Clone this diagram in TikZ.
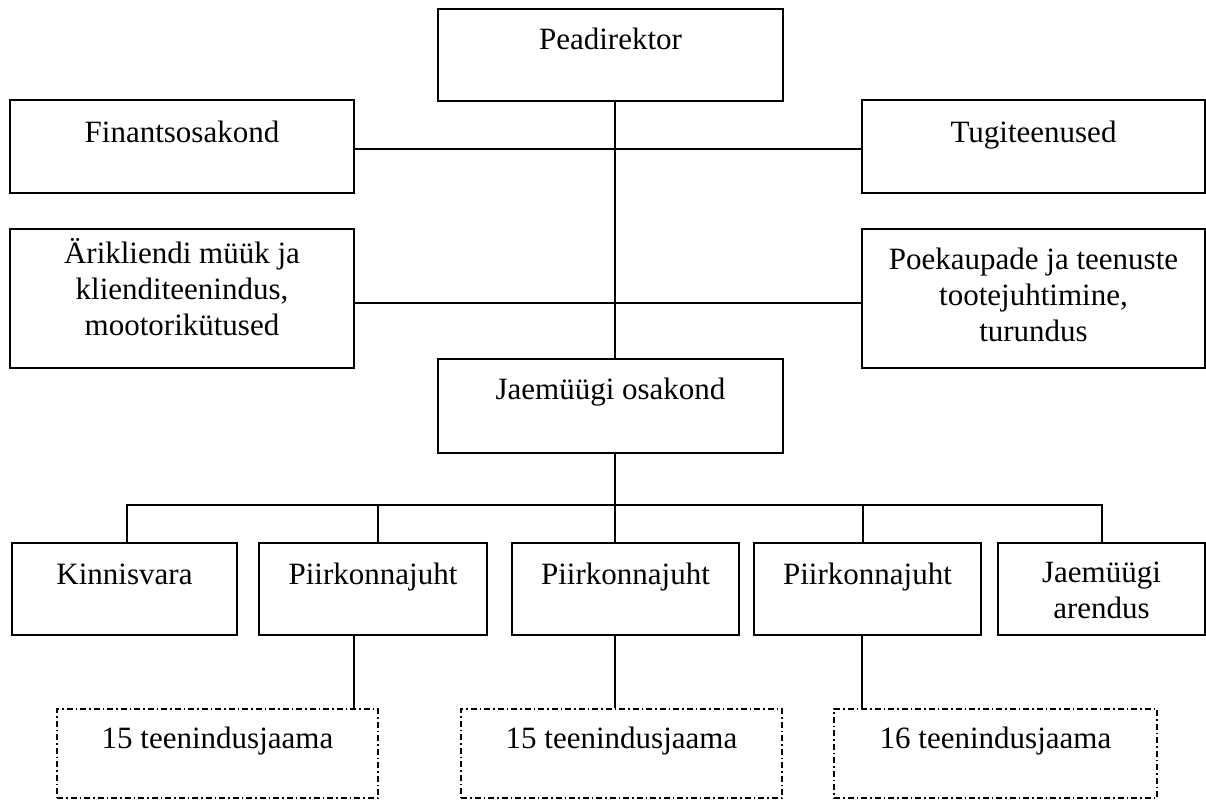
\documentclass[tikz,border=0pt]{standalone}
\usepackage{fontspec}
\setmainfont{Liberation Serif}
\begin{document}
\begin{tikzpicture}[x=1pt,y=-1pt,
  every node/.style={font=\fontsize{31}{36}\selectfont},
  box/.style={draw, line width=1.2pt, inner sep=0pt, rectangle},
  subbox/.style={draw, line width=1.2pt, inner sep=0pt, rectangle,
    dash pattern=on 6pt off 3pt on 1.5pt off 3pt},
  lbl/.style={inner sep=0pt, anchor=base, align=center},
  link/.style={line width=1.2pt}]
\useasboundingbox (0,0) rectangle (1206,800);

% top level
\node[box, minimum width=345pt, minimum height=92pt] (pd) at (610.5,55) {};
\node[lbl] (pd-t) at (610.5,50) {Peadirektor};

% staff units
\node[box, minimum width=344pt, minimum height=93pt] (fin) at (182,146.5) {};
\node[lbl] (fin-t) at (182,142) {Finantsosakond};
\node[box, minimum width=343pt, minimum height=93pt] (tug) at (1033.5,146.5) {};
\node[lbl] (tug-t) at (1033.5,142) {Tugiteenused};

% multi-line labels: the base anchor sits on the last line
\node[box, minimum width=344pt, minimum height=139pt] (ari) at (182,298.5) {};
\node[lbl] (ari-t) at (182,335) {Ärikliendi müük ja\\ klienditeenindus,\\ mootorikütused};
\node[box, minimum width=343pt, minimum height=139pt] (poe) at (1033.5,298.5) {};
\node[lbl] (poe-t) at (1033.5,341) {Poekaupade ja teenuste\\ tootejuhtimine,\\ turundus};

% retail department
\node[box, minimum width=345pt, minimum height=94pt] (jae) at (610.5,406) {};
\node[lbl] (jae-t) at (610.5,399) {Jaemüügi osakond};

% retail units
\node[box, minimum width=225pt, minimum height=92pt] (kin) at (124.5,589) {};
\node[lbl] (kin-t) at (124.5,584) {Kinnisvara};
\node[box, minimum width=228pt, minimum height=92pt] (pk1) at (373,589) {};
\node[lbl] (pk1-t) at (373,584) {Piirkonnajuht};
\node[box, minimum width=227pt, minimum height=92pt] (pk2) at (625.5,589) {};
\node[lbl] (pk2-t) at (625.5,584) {Piirkonnajuht};
\node[box, minimum width=227pt, minimum height=92pt] (pk3) at (867.5,589) {};
\node[lbl] (pk3-t) at (867.5,584) {Piirkonnajuht};
\node[box, minimum width=207pt, minimum height=92pt] (are) at (1101.5,589) {};
\node[lbl] (are-t) at (1101.5,618) {Jaemüügi\\ arendus};

% service stations
\node[subbox, minimum width=321pt, minimum height=89pt] (td1) at (217.5,753.5) {};
\node[lbl] (td1-t) at (217.5,748) {15 teenindusjaama};
\node[subbox, minimum width=321pt, minimum height=89pt] (td2) at (621.5,753.5) {};
\node[lbl] (td2-t) at (621.5,748) {15 teenindusjaama};
\node[subbox, minimum width=323pt, minimum height=89pt] (td3) at (995.5,753.5) {};
\node[lbl] (td3-t) at (995.5,748) {16 teenindusjaama};

% guide coordinates for the connector lines
\coordinate (spine) at (615,0);
\coordinate (row1) at (0,149);
\coordinate (row2) at (0,303);
\coordinate (bus) at (0,505);
\coordinate (d1) at (127,0);
\coordinate (d2) at (378,0);
\coordinate (d3) at (615,0);
\coordinate (d4) at (863,0);
\coordinate (d5) at (1102,0);
\coordinate (s1) at (354,0);
\coordinate (s2) at (615,0);
\coordinate (s3) at (862,0);

% main spine and side branches
\draw[link] (pd.south -| spine) -- (jae.north -| spine);
\draw[link] (fin.east |- row1) -- (tug.west |- row1);
\draw[link] (ari.east |- row2) -- (poe.west |- row2);

% retail bus
\draw[link] (jae.south -| spine) -- (spine |- bus);
\draw[link] (kin.north -| d1) -- (d1 |- bus) -- (d5 |- bus) -- (are.north -| d5);
\draw[link] (d2 |- bus) -- (pk1.north -| d2);
\draw[link] (d3 |- bus) -- (pk2.north -| d3);
\draw[link] (d4 |- bus) -- (pk3.north -| d4);

% regional managers to their stations
\draw[link] (pk1.south -| s1) -- (td1.north -| s1);
\draw[link] (pk2.south -| s2) -- (td2.north -| s2);
\draw[link] (pk3.south -| s3) -- (td3.north -| s3);
\end{tikzpicture}
\end{document}
